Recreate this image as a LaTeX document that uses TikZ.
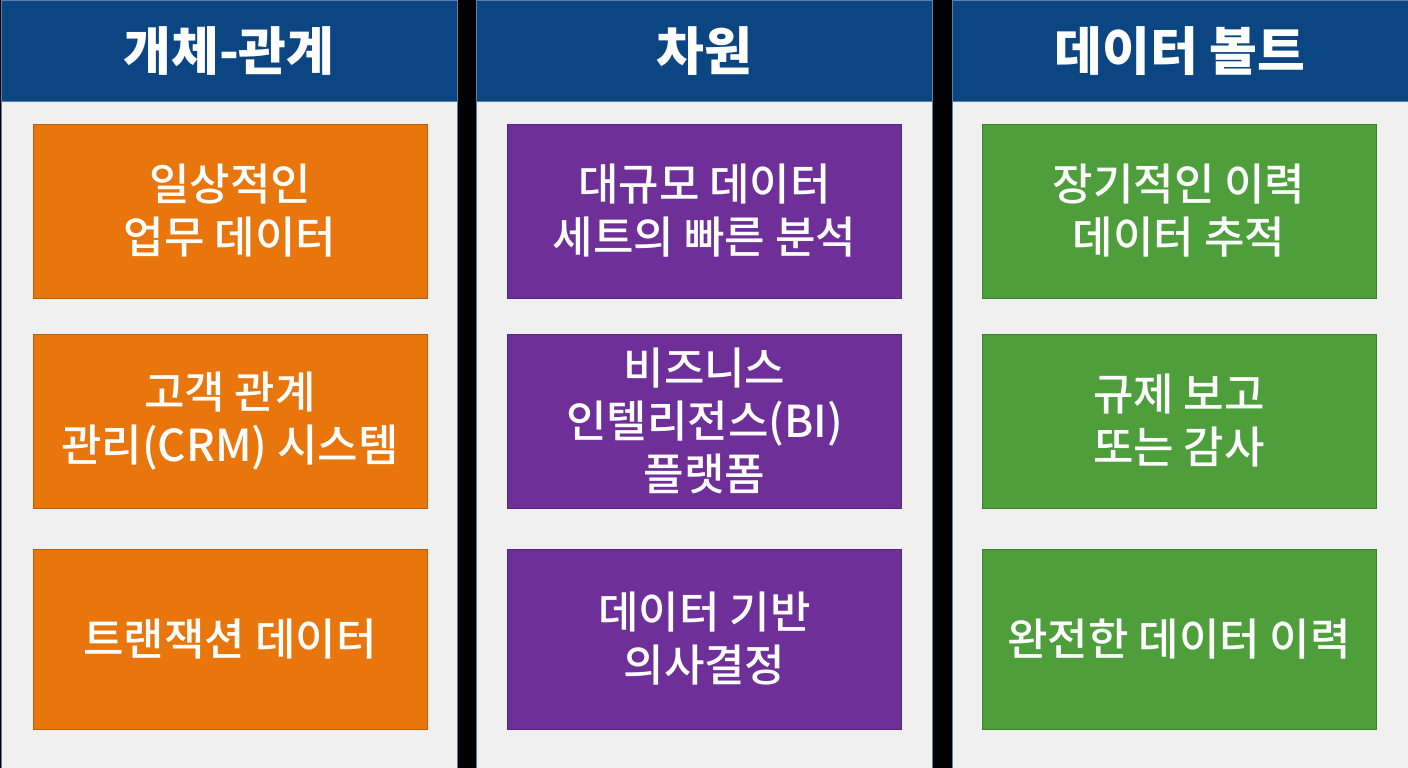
\documentclass[tikz,border=0pt]{standalone}
\usepackage{fontspec}
\setmainfont{Noto Sans CJK KR}
\newfontfamily\krmedium{Noto Sans CJK KR Medium}
\usetikzlibrary{positioning}

\definecolor{headblue}{HTML}{0B4682}
\definecolor{bodygray}{HTML}{F0F0F0}
\definecolor{edgeblue}{HTML}{5A7FA8}
\definecolor{erorange}{HTML}{E8760C}
\definecolor{dimpurple}{HTML}{6E2F98}
\definecolor{vaultgreen}{HTML}{4E9E3B}

\tikzset{
  colhead/.style={fill=headblue, draw=edgeblue, line width=1pt, minimum width=456pt,
    minimum height=100pt, inner sep=0pt, anchor=north west, text=white,
    font=\bfseries\fontsize{52}{56}\selectfont},
  colbody/.style={fill=bodygray, draw=edgeblue, line width=1pt, minimum width=456pt,
    minimum height=668pt, inner sep=0pt, anchor=north west},
  card/.style={minimum width=394pt, inner sep=0pt, align=center, text=white,
    line width=1pt, font=\krmedium\fontsize{44}{53}\selectfont},
}

\begin{document}
\begin{tikzpicture}[x=1pt,y=-1pt]
      \fill [black] (0,0) rectangle (1408,768);
      \useasboundingbox (0,0) rectangle (1408,768);

      % columns
      \node [colbody] (body1) at (0.5,100) {};
      \node [colbody] (body2) at (476,100) {};
      \node [colbody] (body3) at (951.5,100) {};
      \node [colhead] (head1) at (0.5,0.5) {개체-관계};
      \node [colhead] (head2) at (476,0.5) {차원};
      \node [colhead] (head3) at (951.5,0.5) {데이터 볼트};

      % entity-relationship
      \node [card, fill=erorange, draw=erorange!80!black, minimum height=174pt] (er1) at (230,211) {일상적인\\업무 데이터};
      \node [card, fill=erorange, draw=erorange!80!black, minimum height=174pt] (er2) at (230,421) {고객 관계\\관리(CRM) 시스템};
      \node [card, fill=erorange, draw=erorange!80!black, minimum height=180pt] (er3) at (230,639) {트랜잭션 데이터};

      % dimensional
      \node [card, fill=dimpurple, draw=dimpurple!80!black, minimum height=174pt] (dim1) at (704.5,211) {대규모 데이터\\세트의 빠른 분석};
      \node [card, fill=dimpurple, draw=dimpurple!80!black, minimum height=174pt] (dim2) at (704.5,421) {비즈니스\\인텔리전스(BI)\\플랫폼};
      \node [card, fill=dimpurple, draw=dimpurple!80!black, minimum height=180pt] (dim3) at (704.5,639) {데이터 기반\\의사결정};

      % data vault
      \node [card, fill=vaultgreen, draw=vaultgreen!80!black, minimum height=174pt] (dv1) at (1179,211) {장기적인 이력\\데이터 추적};
      \node [card, fill=vaultgreen, draw=vaultgreen!80!black, minimum height=174pt] (dv2) at (1179,421) {규제 보고\\또는 감사};
      \node [card, fill=vaultgreen, draw=vaultgreen!80!black, minimum height=180pt] (dv3) at (1179,639) {완전한 데이터 이력};
\end{tikzpicture}
\end{document}
